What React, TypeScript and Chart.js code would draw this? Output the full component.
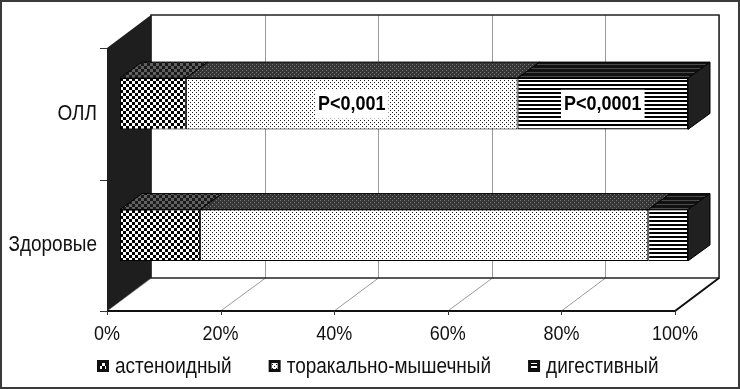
import React, { useEffect, useRef } from 'react';
import { Chart, registerables } from 'chart.js';

Chart.register(...registerables);

// ---- data ----
const categories = ['ОЛЛ', 'Здоровые'];
const seriesNames = ['астеноидный', 'торакально-мышечный', 'дигестивный'];
const asthenoid = [11.6, 14.1];
const thoracic = [58.4, 78.9];
const digestive = [30.0, 7.0];
const thoracicNotes = ['P<0,001', ''];
const digestiveNotes = ['P<0,0001', ''];
const tickStep = 20;

// ---- 3D look (styles) ----
const BAR_DEPTH = { dx: 22, dy: -16 };
const FRONT = { dx: -13, dy: 10 };
const BACK = { dx: 31, dy: -23 };
const FONT = "'Liberation Sans', Arial, sans-serif";
const TEXT_STRETCH = 1.13;

function makePattern(w: number, h: number, draw: (c: CanvasRenderingContext2D) => void) {
  const cv = document.createElement('canvas');
  cv.width = w;
  cv.height = h;
  const c = cv.getContext('2d')!;
  draw(c);
  const ctx = document.createElement('canvas').getContext('2d')!;
  return ctx.createPattern(cv, 'repeat')!;
}

function checker(a: string, b: string) {
  return makePattern(6, 6, (c) => {
    c.fillStyle = b; c.fillRect(0, 0, 6, 6);
    c.fillStyle = a; c.fillRect(0, 0, 3, 3); c.fillRect(3, 3, 3, 3);
  });
}
function dots(dot: string, bg: string) {
  return makePattern(4, 4, (c) => {
    c.fillStyle = bg; c.fillRect(0, 0, 4, 4);
    c.fillStyle = dot; c.fillRect(0, 0, 1, 1); c.fillRect(2, 2, 1, 1);
  });
}
function stripes(line: string, bg: string, lineRows: number) {
  return makePattern(4, 4, (c) => {
    c.fillStyle = bg; c.fillRect(0, 0, 4, 4);
    c.fillStyle = line; c.fillRect(0, 0, 4, lineRows);
  });
}

function stretchedText(ctx: CanvasRenderingContext2D, txt: string, x: number, y: number) {
  ctx.save();
  ctx.translate(x, y);
  ctx.scale(1, TEXT_STRETCH);
  ctx.fillText(txt, 0, 0);
  ctx.restore();
}

export default function App() {
  const ref = useRef<HTMLCanvasElement | null>(null);

  useEffect(() => {
    document.body.style.margin = '0';
    const canvas = ref.current!;
    const frontFills = [checker('#000', '#fff'), dots('#1a1a1a', '#fff'), stripes('#000', '#fff', 2)];
    const topFills = [checker('#1a1a1a', '#606060'), dots('#7a7a7a', '#363636'), stripes('#4a4a4a', '#111', 1)];
    const notes = [categories.map(() => ''), thoracicNotes, digestiveNotes];

    const plugin = {
      id: 'fake3d',
      beforeDatasetsDraw(chart: any) {
        const { ctx, chartArea: a } = chart;
        const x = chart.scales.x;
        const y = chart.scales.y;
        const W = chart.width, H = chart.height;
        ctx.save();
        // outer frame
        ctx.strokeStyle = '#3a3a3a';
        ctx.lineWidth = 2;
        ctx.strokeRect(1, 1, W - 2, H - 2);

        const bl = a.left + BACK.dx, br = a.right + BACK.dx, bt = a.top + BACK.dy, bb = a.bottom + BACK.dy;
        const fl = a.left + FRONT.dx, fr = a.right + FRONT.dx, ft = a.top + FRONT.dy, fb = a.bottom + FRONT.dy;

        // back wall
        ctx.fillStyle = '#fff';
        ctx.fillRect(bl, bt, br - bl, bb - bt);
        // gridlines on wall + floor
        ctx.strokeStyle = '#9a9a9a';
        ctx.lineWidth = 1;
        x.ticks.forEach((t: any) => {
          const p = x.getPixelForValue(t.value);
          ctx.beginPath();
          ctx.moveTo(Math.round(p + BACK.dx) + 0.5, bt);
          ctx.lineTo(Math.round(p + BACK.dx) + 0.5, bb);
          ctx.lineTo(p + FRONT.dx, fb);
          ctx.stroke();
        });
        ctx.strokeStyle = '#222';
        ctx.lineWidth = 1.5;
        ctx.strokeRect(bl, bt, br - bl, bb - bt);

        // left wall
        ctx.fillStyle = '#1e1e1e';
        ctx.beginPath();
        ctx.moveTo(fl, ft);
        ctx.lineTo(bl, bt);
        ctx.lineTo(bl, bb);
        ctx.lineTo(fl, fb);
        ctx.closePath();
        ctx.fill();

        // floor outline
        ctx.strokeStyle = '#111';
        ctx.lineWidth = 2;
        ctx.beginPath();
        ctx.moveTo(fl, fb);
        ctx.lineTo(fr, fb);
        ctx.lineTo(br, bb);
        ctx.stroke();

        // small ticks
        ctx.lineWidth = 1;
        ctx.strokeStyle = '#333';
        const half = (y.getPixelForValue(1) - y.getPixelForValue(0)) / 2;
        const bounds = [y.getPixelForValue(0) - half, ...categories.map((_, i) => y.getPixelForValue(i) + half)];
        bounds.forEach((b) => {
          ctx.beginPath();
          ctx.moveTo(fl - 7, Math.round(b + FRONT.dy) + 0.5);
          ctx.lineTo(fl, Math.round(b + FRONT.dy) + 0.5);
          ctx.stroke();
        });
        x.ticks.forEach((t: any) => {
          const p = Math.round(x.getPixelForValue(t.value) + FRONT.dx) + 0.5;
          ctx.beginPath();
          ctx.moveTo(p, fb);
          ctx.lineTo(p, fb + 4);
          ctx.stroke();
        });

        // x tick labels
        ctx.fillStyle = '#111';
        ctx.font = `18px ${FONT}`;
        ctx.textAlign = 'center';
        ctx.textBaseline = 'middle';
        x.ticks.forEach((t: any) => {
          stretchedText(ctx, t.value + '%', x.getPixelForValue(t.value) + FRONT.dx, fb + 23);
        });

        // category labels
        ctx.font = `19px ${FONT}`;
        ctx.textAlign = 'right';
        categories.forEach((c, i) => {
          stretchedText(ctx, c, fl - 10, y.getPixelForValue(i) + FRONT.dy);
        });

        // legend
        ctx.font = `19px ${FONT}`;
        ctx.textAlign = 'left';
        let lx = 97;
        const ly = H - 23;
        chart.data.datasets.forEach((ds: any, i: number) => {
          ctx.fillStyle = '#111';
          ctx.fillRect(lx, ly - 6, 12, 12);
          ctx.fillStyle = frontFills[i];
          ctx.fillRect(lx + 3, ly - 3, 6, 6);
          ctx.fillStyle = '#111';
          stretchedText(ctx, ds.label, lx + 18, ly + 1);
          lx += 18 + ctx.measureText(ds.label).width + 37;
        });
        ctx.restore();
      },
      afterDatasetsDraw(chart: any) {
        const { ctx } = chart;
        const n = chart.data.datasets.length;
        ctx.save();
        ctx.strokeStyle = '#000';
        ctx.lineWidth = 1;
        categories.forEach((_, i) => {
          for (let d = 0; d < n; d++) {
            const el = chart.getDatasetMeta(d).data[i];
            const { x: x1, base: x0, y: cy, height } = el.getProps(['x', 'base', 'y', 'height'], true);
            const top = cy - height / 2;
            const bot = cy + height / 2;
            ctx.fillStyle = topFills[d];
            ctx.beginPath();
            ctx.moveTo(x0, top);
            ctx.lineTo(x1, top);
            ctx.lineTo(x1 + BAR_DEPTH.dx, top + BAR_DEPTH.dy);
            ctx.lineTo(x0 + BAR_DEPTH.dx, top + BAR_DEPTH.dy);
            ctx.closePath();
            ctx.fill();
            ctx.stroke();
            if (d === n - 1) {
              ctx.fillStyle = '#202020';
              ctx.beginPath();
              ctx.moveTo(x1, top);
              ctx.lineTo(x1 + BAR_DEPTH.dx, top + BAR_DEPTH.dy);
              ctx.lineTo(x1 + BAR_DEPTH.dx, bot + BAR_DEPTH.dy);
              ctx.lineTo(x1, bot);
              ctx.closePath();
              ctx.fill();
              ctx.stroke();
            }
          }
          // notes
          for (let d = 0; d < n; d++) {
            const txt = notes[d][i];
            if (!txt) continue;
            const el = chart.getDatasetMeta(d).data[i];
            const { x: x1, base: x0, y: cy } = el.getProps(['x', 'base', 'y'], true);
            const cx = (x0 + x1) / 2;
            ctx.font = `bold 18px ${FONT}`;
            const w = ctx.measureText(txt).width;
            ctx.fillStyle = '#fff';
            ctx.fillRect(cx - w / 2 - 3, cy - 14, w + 6, 29);
            ctx.fillStyle = '#000';
            ctx.textAlign = 'center';
            ctx.textBaseline = 'middle';
            stretchedText(ctx, txt, cx, cy + 1);
          }
        });
        ctx.restore();
      },
    };

    const series = [asthenoid, thoracic, digestive];
    const chart = new Chart(canvas, {
      type: 'bar',
      data: {
        labels: categories,
        datasets: series.map((vals, i) => ({
          label: seriesNames[i],
          data: vals,
          backgroundColor: frontFills[i],
          borderColor: '#000',
          borderWidth: 1,
          borderSkipped: false,
          categoryPercentage: 1,
          barPercentage: 0.39,
        })),
      },
      options: {
        indexAxis: 'y',
        responsive: false,
        animation: false,
        layout: { padding: { left: 120, right: 52, top: 38, bottom: 88 } },
        plugins: { legend: { display: false }, tooltip: { enabled: false } },
        scales: {
          x: { stacked: true, min: 0, max: 100, display: false, ticks: { stepSize: tickStep } },
          y: { stacked: true, display: false },
        },
      },
      plugins: [plugin],
    });
    return () => chart.destroy();
  }, []);

  return (
    <div style={{ width: 740, height: 389, background: '#fff' }}>
      <canvas ref={ref} width={740} height={389} />
    </div>
  );
}
